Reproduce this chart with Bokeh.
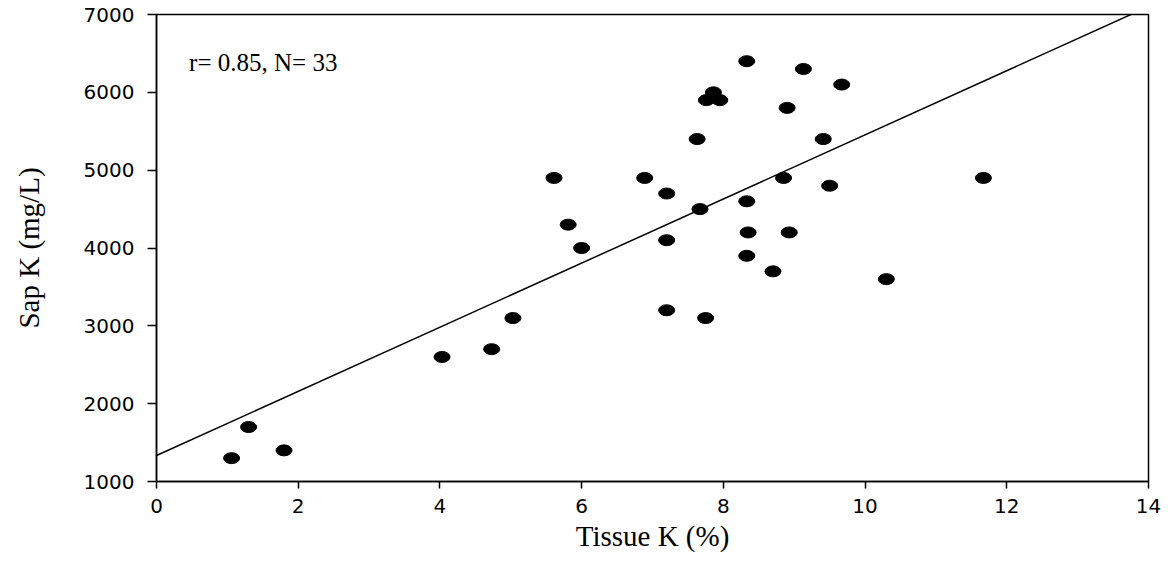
from bokeh.plotting import figure
from bokeh.models import Range1d, Label, FixedTicker, ColumnDataSource
from bokeh.embed import file_html
from bokeh.resources import INLINE

# Data
tissue_k = [1.06, 1.30, 1.80, 4.03, 4.73, 5.03, 5.61, 5.81, 6.00, 6.89, 7.20, 7.20, 7.20,
            7.63, 7.67, 7.75, 7.76, 7.86, 7.95, 8.33, 8.33, 8.35, 8.33, 8.70, 8.85, 8.90,
            8.93, 9.13, 9.41, 9.50, 9.67, 10.30, 11.67]
sap_k = [1300, 1700, 1400, 2600, 2700, 3100, 4900, 4300, 4000, 4900, 4700, 4100, 3200,
         5400, 4500, 3100, 5900, 6000, 5900, 6400, 4600, 4200, 3900, 3700, 4900, 5800,
         4200, 6300, 5400, 4800, 6100, 3600, 4900]

fit_intercept = 1334.0
fit_slope = 412.0
fit_x = [0.0, 14.0]
fit_y = [fit_intercept + fit_slope * v for v in fit_x]

x_ticks = [0, 2, 4, 6, 8, 10, 12, 14]
y_ticks = [1000, 2000, 3000, 4000, 5000, 6000, 7000]
stats_text = "r= 0.85, N= 33"

p = figure(width=1168, height=562, output_backend="svg", toolbar_location=None,
           x_range=Range1d(0, 14), y_range=Range1d(1000, 7000),
           min_border_left=156, min_border_right=20, min_border_top=14, min_border_bottom=81)

p.background_fill_color = "white"
p.border_fill_color = "white"
p.outline_line_color = "black"
p.outline_line_width = 1.5
p.xgrid.visible = False
p.ygrid.visible = False

p.line(fit_x, fit_y, line_color="black", line_width=1.5)

src = ColumnDataSource(dict(x=tissue_k, y=sap_k))
p.ellipse(x="x", y="y", width=16, height=11, width_units="screen", height_units="screen",
          source=src, fill_color="black", line_color="black")

tick_font = "DejaVu Sans"
for ax in (p.xaxis[0], p.yaxis[0]):
    ax.axis_line_color = "black"
    ax.axis_line_width = 1.5
    ax.major_tick_line_color = "black"
    ax.major_tick_line_width = 1.5
    ax.major_tick_in = 0
    ax.minor_tick_line_color = None
    ax.major_label_text_font = tick_font
    ax.major_label_text_font_size = "20px"
    ax.major_label_text_color = "black"
    ax.axis_label_text_font = "Liberation Serif"
    ax.axis_label_text_font_style = "normal"
    ax.axis_label_text_color = "black"

p.xaxis.ticker = FixedTicker(ticks=x_ticks)
p.yaxis.ticker = FixedTicker(ticks=y_ticks)
p.xaxis.major_tick_out = 7
p.yaxis.major_tick_out = 9
p.xaxis.major_label_standoff = 10
p.yaxis.major_label_standoff = 13

p.xaxis.axis_label = "Tissue K (%)"
p.xaxis.axis_label_text_font_size = "29px"
p.xaxis.axis_label_standoff = 4
p.yaxis.axis_label = "Sap K (mg/L)"
p.yaxis.axis_label_text_font_size = "29px"
p.yaxis.axis_label_standoff = 36

p.add_layout(Label(x=0.46, y=6380, text=stats_text, text_font="Liberation Serif",
                   text_font_size="25px", text_color="black", text_baseline="alphabetic"))

open("out.html", "w").write(file_html(p, INLINE))
